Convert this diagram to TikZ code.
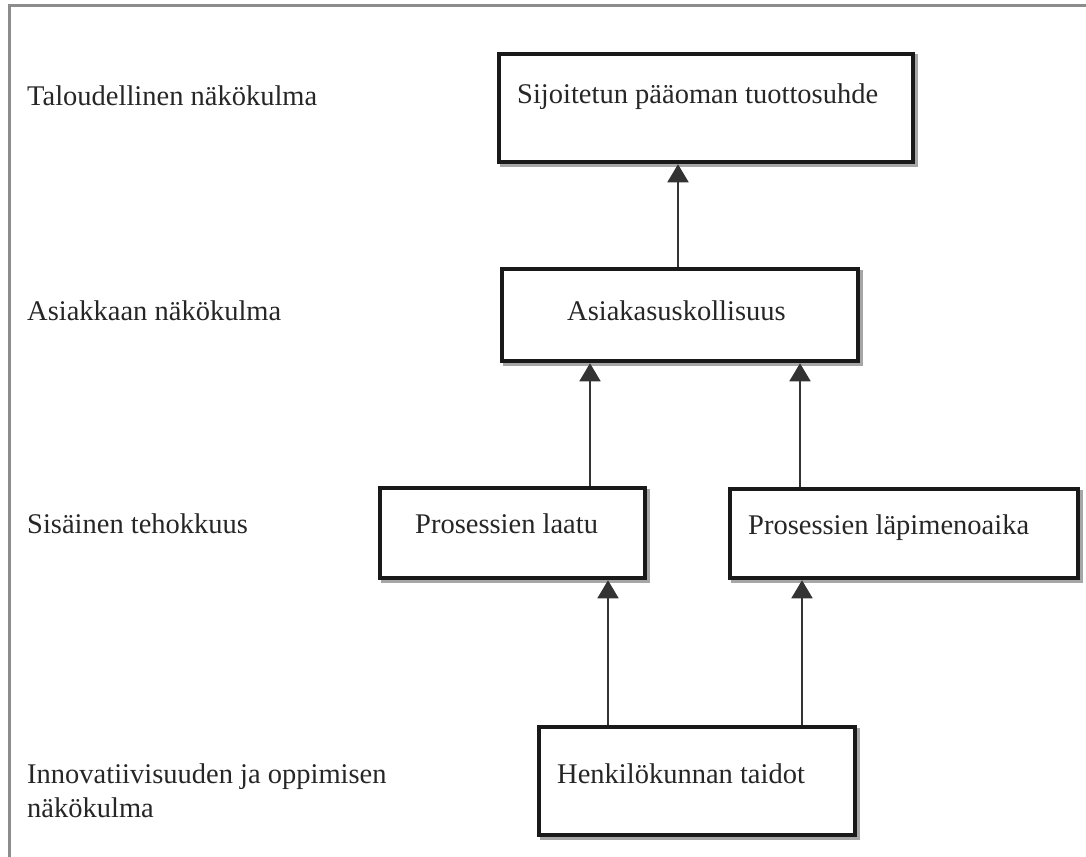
\documentclass[tikz,border=0pt]{standalone}
\usepackage{fontspec}
\setmainfont{Liberation Serif}
\usetikzlibrary{arrows.meta}
\begin{document}
\begin{tikzpicture}[x=1pt,y=-1pt,
  box/.style={draw=black!90, line width=4.5pt, fill=white, inner sep=0pt,
    preaction={draw=black!35, line width=4pt, transform canvas={shift={(2.5pt,-2.5pt)}}}},
  txt/.style={inner sep=0pt, anchor=base west, text=black!85,
    font=\fontsize{28.5}{34}\selectfont},
  conn/.style={draw=black!80, line width=1.8pt,
    -{Triangle[width=21pt,length=18pt]}},
  frame/.style={draw=black!45, line width=3pt}]
\useasboundingbox (0,0) rectangle (1086,856);
% outer frame
\draw[frame] (9,870) -- (9,6) -- (1100,6);
% boxes
\node[box, minimum width=414pt, minimum height=108pt] (T) at (706,108) {};
\node[box, minimum width=356pt, minimum height=92pt] (A) at (680,315) {};
\node[box, minimum width=265pt, minimum height=90pt] (L) at (512.5,533) {};
\node[box, minimum width=348pt, minimum height=89pt] (P) at (904,533.5) {};
\node[box, minimum width=316pt, minimum height=108pt] (H) at (697,781) {};
% box texts
\node[txt] (tT) at (517,104) {Sijoitetun pääoman tuottosuhde};
\node[txt] (tA) at (567,320) {Asiakasuskollisuus};
\node[txt] (tL) at (415,533) {Prosessien laatu};
\node[txt] (tP) at (748,534) {Prosessien läpimenoaika};
\node[txt] (tH) at (557,783) {Henkilökunnan taidot};
% left labels
\node[txt] (l1) at (27,106) {Taloudellinen näkökulma};
\node[txt] (l2) at (27,320) {Asiakkaan näkökulma};
\node[txt] (l3) at (27,533) {Sisäinen tehokkuus};
\node[txt, align=left] (l4) at (27,817) {Innovatiivisuuden ja oppimisen\\näkökulma};
% connector x positions
\coordinate (c1) at (678,0);
\coordinate (c2) at (590,0);
\coordinate (c3) at (800,0);
\coordinate (c4) at (608,0);
\coordinate (c5) at (802,0);
\draw[conn] (c1 |- A.north) -- (c1 |- T.south);
\draw[conn] (c2 |- L.north) -- (c2 |- A.south);
\draw[conn] (c3 |- P.north) -- (c3 |- A.south);
\draw[conn] (c4 |- H.north) -- (c4 |- L.south);
\draw[conn] (c5 |- H.north) -- (c5 |- P.south);
\end{tikzpicture}
\end{document}
